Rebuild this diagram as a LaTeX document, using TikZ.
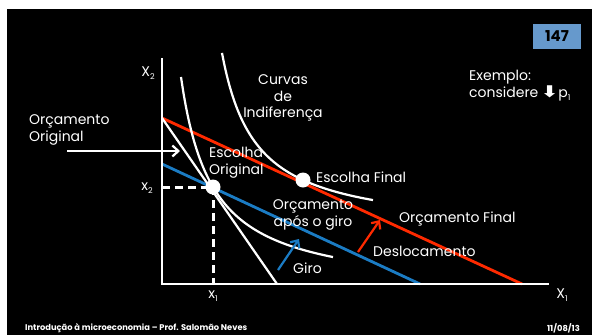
\documentclass[tikz,border=0pt]{standalone}
\usepackage{fontspec}
\setmainfont{Poppins}
\newfontfamily\symfont{DejaVu Sans}
\usetikzlibrary{arrows.meta}
\definecolor{redl}{HTML}{FF2A00}
\definecolor{bluel}{HTML}{1B7CC4}
\definecolor{boxblue}{HTML}{6699CC}
\newcommand\lowi[1]{\raisebox{-0.45ex}{\fontsize{8}{8}\selectfont #1}}
\begin{document}
\begin{tikzpicture}[x=1pt,y=-1pt,
  lbl/.style={text=white,font=\fontsize{14}{16.5}\selectfont,inner sep=0pt},
  axis/.style={white,line width=2.4pt},
  budget/.style={line width=2.8pt},
  icurve/.style={white,line width=2.2pt},
  guide/.style={white,line width=3pt,dash pattern=on 8pt off 5pt},
  dot/.style={circle,fill=white,inner sep=0pt,minimum size=15pt},
  arr/.style={line width=2.2pt,-{Straight Barb[length=6pt,width=11pt]}},
  foot/.style={text=white,font=\bfseries\fontsize{8.3}{9}\selectfont,inner sep=0pt}]
\useasboundingbox (0,0) rectangle (592,335);
\fill[white] (0,0) rectangle (592,335);
\fill[black] (7,9) rectangle (592,335);
% page number box
\node[fill=boxblue,minimum width=48pt,minimum height=25pt,inner sep=0pt,
  font=\bfseries\fontsize{15}{15}\selectfont,text=black] (pg) at (557,36.5) {147};
% coordinates
\coordinate (ytop) at (162,58);
\coordinate (orig) at (162,284);
\coordinate (xend) at (549,284);
\coordinate (rA) at (162,118);
\coordinate (rB) at (522,284);
\coordinate (bA) at (162,164);
\coordinate (bB) at (420,284);
\coordinate (wB) at (277,284);
\coordinate (x2p) at (162,187);
\coordinate (x1p) at (213,284);
% budget lines
\draw[budget,redl] (rA) -- (rB);
\draw[budget,bluel] (bA) -- (bB);
\draw[icurve] (rA) -- (wB);
% indifference curves
\draw[icurve] plot[domain=181:333,samples=60,smooth] (\x,{293.9-6746/(\x-149.9)});
\draw[icurve] plot[domain=222:373,samples=60,smooth] (\x,{232.9-6065/(\x-188.3)});
% axes
\draw[axis] (ytop) -- (orig) -- (xend);
% dots
\node[dot] (d1) at (213,187) {};
\node[dot] (d2) at (303,180) {};
% guides
\draw[guide] (x2p) -- (d1.center);
\draw[guide] (d1.center) -- (x1p);
% arrows
\coordinate (oa1) at (67,151);
\coordinate (oa2) at (180,151);
\draw[arr,white] (oa1) -- (oa2);
\coordinate (ga1) at (278,270);
\coordinate (ga2) at (299,239);
\draw[arr,bluel] (ga1) -- (ga2);
\coordinate (da1) at (358,252);
\coordinate (da2) at (380,220);
\draw[arr,redl] (da1) -- (da2);
% labels
\node[lbl] (lx2) at (148,73) {X\lowi{2}};
\node[lbl] (lX1) at (562,295) {X\lowi{1}};
\node[lbl] (sx2) at (147,188) {x\lowi{2}};
\node[lbl] (sx1) at (213,296) {x\lowi{1}};
\node[lbl,align=center] (curv) at (283,98) {Curvas\\de\\Indiferença};
\node[lbl,align=left,anchor=west] (ex) at (469,85.5) {Exemplo:\\considere\,{\symfont\bfseries\scalebox{1.5}[1.15]{⬇}}p\lowi{1}};
\node[lbl,align=left,anchor=west] (oo) at (29,130) {Orçamento\\Original};
\node[lbl,align=left,anchor=west] (eo) at (209,162.5) {Escolha\\Original};
\node[lbl,anchor=west] (ef) at (316,177) {Escolha Final};
\node[lbl,align=center] (oag) at (313,215) {Orçamento\\após o giro};
\node[lbl,anchor=west] (of) at (399,219) {Orçamento Final};
\node[lbl,anchor=west] (desl) at (373,251) {Deslocamento};
\node[lbl,anchor=west] (giro) at (293,268) {Giro};
% footer
\node[foot,anchor=west] (ft) at (25,328) {Introdução à microeconomia – Prof. Salomão Neves};
\node[foot,anchor=east] (dt) at (580,328) {11/08/13};
\end{tikzpicture}
\end{document}
